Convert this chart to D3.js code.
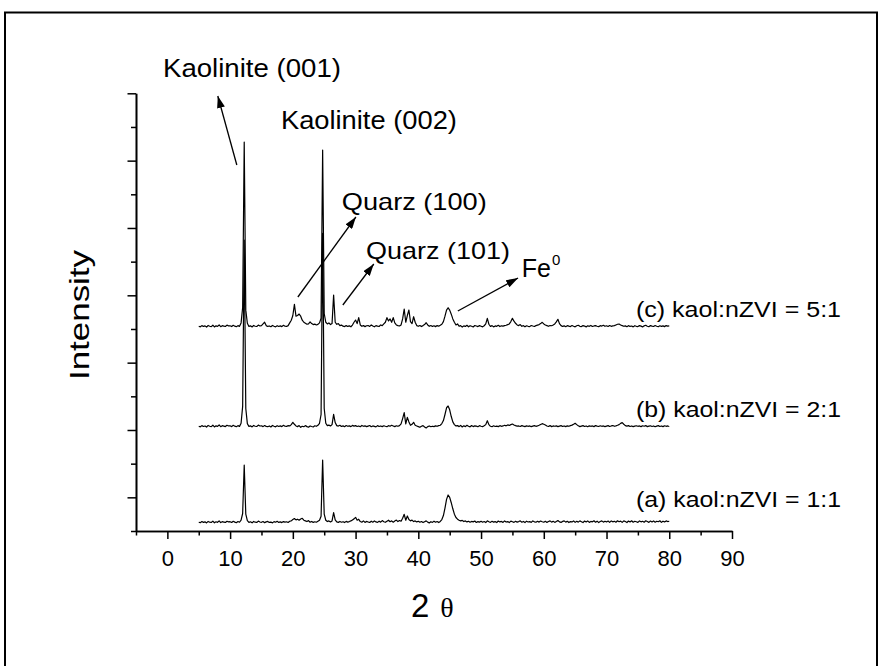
<!DOCTYPE html>
<html>
<head>
<meta charset="utf-8">
<script src="https://cdn.jsdelivr.net/npm/d3@7/dist/d3.min.js"></script>
<style>
  html, body { margin: 0; padding: 0; background: #fff; }
  svg { display: block; }
  text { font-family: "Liberation Sans", Arial, sans-serif; fill: #000; }
</style>
</head>
<body>
<div id="chart"></div>
<script>
// XRD patterns of kaolinite-supported nZVI, stacked traces

// scan grid: 5 to 80 deg 2theta, 0.25 deg step (301 points)
const scanStart = 5;
const scanStep = 0.25;

const seriesNames = ["(a) kaol:nZVI = 1:1", "(b) kaol:nZVI = 2:1", "(c) kaol:nZVI = 5:1"];
const stackOffsets = [0, 1400, 2900];

// counts, one row per 5 deg
const countsA = [
  130,124,140,128,136,120,142,131,126,146,122,137,129,150,125,139,133,127,145,135,
  138,126,145,132,124,140,130,160,260,980,250,155,128,137,121,142,131,127,147,134,
  129,140,124,136,142,127,133,121,139,130,144,128,135,125,140,131,137,126,145,150,
  170,185,165,175,160,178,189,160,150,140,155,130,142,128,137,130,145,160,220,1054,
  250,160,140,150,135,150,272,165,135,128,142,130,138,125,143,132,140,150,165,180,
  203,160,175,140,130,150,128,142,134,126,145,130,150,135,128,146,132,155,138,129,
  145,160,138,150,130,148,162,140,155,145,190,248,160,223,170,150,162,140,150,135,
  145,130,140,125,138,150,132,120,138,128,145,130,140,125,142,170,230,340,470,535,
  500,420,330,250,200,175,160,150,158,140,150,135,145,130,142,136,148,127,140,132,
  145,130,140,125,150,138,128,145,132,140,126,148,135,142,128,150,133,140,125,146,
  138,128,145,132,140,150,130,142,125,146,134,140,128,150,136,130,145,132,148,138,
  130,144,128,140,150,132,145,128,140,155,135,128,142,150,132,145,126,140,135,150,
  128,145,132,150,138,125,148,134,150,128,142,136,152,130,146,125,140,150,132,145,
  135,148,128,150,136,145,130,152,138,146,128,150,140,126,148,135,152,130,145,138,
  128,150,136,145,130,152,140,128,148,135,150,130,145,138,152,128,146,135,150,140,
  145
];
const countsB = [
  155,147,165,152,160,144,168,156,150,171,146,162,153,175,149,164,158,151,170,160,
  163,150,170,157,148,165,154,200,450,2920,420,195,153,162,146,167,156,152,172,159,
  162,150,166,154,149,160,145,167,155,147,164,152,161,150,170,156,153,165,160,180,
  214,185,160,150,165,140,155,148,165,150,142,160,152,145,163,155,170,200,330,3020,
  420,200,165,172,160,180,333,210,165,158,170,152,161,149,166,155,162,150,168,157,
  165,152,160,148,167,155,162,150,158,166,149,160,154,146,165,152,160,150,163,155,
  148,165,156,170,160,150,163,155,165,190,270,357,190,288,220,170,185,214,170,160,
  150,140,155,165,145,130,150,160,148,156,150,162,155,165,170,195,240,330,430,456,
  400,300,220,180,160,165,150,168,145,162,150,170,155,147,166,150,162,157,148,165,
  156,150,162,180,238,180,155,148,162,152,158,150,164,155,160,170,162,175,168,180,
  189,175,165,158,160,152,165,157,150,162,155,160,150,158,165,155,160,170,182,194,
  185,175,160,152,165,150,160,156,162,150,158,165,153,160,150,162,155,165,172,185,
  200,180,162,150,158,165,152,160,148,162,155,160,150,165,158,152,163,155,160,150,
  158,165,152,160,166,155,162,170,180,198,209,185,165,158,165,152,160,150,158,163,
  155,160,150,163,156,165,150,158,162,152,160,148,158,165,152,160,150,163,155,160,
  152
];
const countsC = [
  140,132,150,138,146,128,152,141,135,156,130,147,139,160,134,149,143,137,158,145,
  148,136,155,142,133,150,139,190,420,2877,380,185,138,147,130,152,141,137,158,144,
  150,175,200,150,138,145,133,152,140,131,149,137,146,135,155,141,138,150,190,230,
  300,466,290,300,322,290,230,200,185,170,175,205,180,165,172,160,168,190,260,2758,
  330,200,175,190,165,180,605,200,170,180,150,158,142,136,150,138,147,133,158,200,
  233,180,268,160,140,150,135,148,152,138,160,145,132,150,142,137,160,150,175,200,
  268,220,250,200,268,190,160,150,145,160,250,397,200,300,382,210,180,282,200,150,
  140,152,136,150,165,193,160,140,152,138,148,135,150,142,155,170,210,290,380,416,
  380,320,250,200,160,175,140,150,128,146,138,155,133,149,140,130,152,144,136,150,
  141,132,148,175,258,170,138,150,131,145,139,154,136,147,142,150,155,165,175,210,
  258,215,185,160,150,165,140,150,132,148,140,135,152,144,138,150,158,165,180,199,
  175,160,150,140,152,148,160,175,205,244,180,150,138,147,133,150,142,136,151,140,
  132,148,155,140,136,150,143,131,148,139,153,137,145,150,141,135,149,143,155,140,
  148,137,152,140,145,150,160,170,174,160,150,140,146,133,150,138,144,131,149,140,
  136,150,142,131,147,155,140,134,150,143,137,152,140,133,148,139,146,135,150,142,
  146
];
const seriesCounts = [countsA, countsB, countsC];

const xMajorTicks = [0, 10, 20, 30, 40, 50, 60, 70, 80, 90];
const xMinorTicks = [-5, 5, 15, 25, 35, 45, 55, 65, 75, 85];
const yMajorTicks = [500, 1500, 2500, 3500, 4500, 5500, 6500];
const yMinorTicks = [0, 1000, 2000, 3000, 4000, 5000, 6000];

// peak annotations, placed in data units
const peakLabels = [
  { text: "Kaolinite (001)", x: -0.7, y: 6742, size: 25, len: 178 },
  { text: "Kaolinite (002)", x: 18.1, y: 5970, size: 25, len: 176 },
  { text: "Quarz (100)", x: 27.8, y: 4767, size: 24, len: 145 },
  { text: "Quarz (101)", x: 31.65, y: 4039, size: 24, len: 144 }
];
const peakArrows = [
  { from: [11.07, 5435], to: [8.04, 6460] },
  { from: [20.8, 3475], to: [30.05, 4663] },
  { from: [27.97, 3356], to: [32.9, 3965] },
  { from: [46.3, 3267], to: [55.9, 3757] }
];
const feLabel = { x: 56.5, y: 3772 };
const legendPos = { x: 74.7, y: [361, 1697, 3182] };

const width = 881, height = 666;

const svg = d3.select("#chart").append("svg")
  .attr("width", width)
  .attr("height", height)
  .attr("viewBox", `0 0 ${width} ${height}`);

svg.append("rect")
  .attr("x", 5).attr("y", 12.5)
  .attr("width", 872).attr("height", 700)
  .attr("fill", "none")
  .attr("stroke", "#000")
  .attr("stroke-width", 2);

const x = d3.scaleLinear().domain([-5, 90]).range([136, 732]);
const y = d3.scaleLinear().domain([0, 6500]).range([531, 93.3]);

svg.append("defs").append("marker")
  .attr("id", "head")
  .attr("viewBox", "0 0 12 8")
  .attr("refX", 12).attr("refY", 4)
  .attr("markerWidth", 12).attr("markerHeight", 8)
  .attr("markerUnits", "userSpaceOnUse")
  .attr("orient", "auto")
  .append("path")
  .attr("d", "M0,0L12,4L0,8Z")
  .attr("fill", "#000");

// axes
const axisStyle = g => {
  g.select(".domain").attr("stroke-width", 1.6);
  g.selectAll(".tick line").attr("stroke-width", 1.5);
};

svg.append("g")
  .attr("transform", `translate(0,${y(0)})`)
  .call(d3.axisBottom(x).tickValues(xMajorTicks).tickSize(8).tickPadding(11).tickSizeOuter(0))
  .call(axisStyle)
  .call(g => g.selectAll("text")
    .attr("font-size", 22)
    .attr("font-family", "'Liberation Sans', Arial, sans-serif"));

svg.append("g")
  .attr("transform", `translate(0,${y(0)})`)
  .call(d3.axisBottom(x).tickValues(xMinorTicks).tickSize(4.5).tickFormat("").tickSizeOuter(0))
  .call(axisStyle);

svg.append("g")
  .attr("transform", `translate(${x(-5)},0)`)
  .call(d3.axisLeft(y).tickValues(yMajorTicks).tickSize(8.5).tickFormat("").tickSizeOuter(0))
  .call(axisStyle);

svg.append("g")
  .attr("transform", `translate(${x(-5)},0)`)
  .call(d3.axisLeft(y).tickValues(yMinorTicks).tickSize(5).tickFormat("").tickSizeOuter(0))
  .call(axisStyle);

// traces
const line = d3.line()
  .x((d, i) => x(scanStart + i * scanStep))
  .y(d => y(d));

seriesCounts.forEach((counts, k) => {
  svg.append("path")
    .datum(counts.map(c => c + stackOffsets[k]))
    .attr("fill", "none")
    .attr("stroke", "#000")
    .attr("stroke-width", 1.2)
    .attr("stroke-linejoin", "round")
    .attr("d", line);

  svg.append("text")
    .attr("x", x(legendPos.x))
    .attr("y", y(legendPos.y[k]))
    .attr("font-size", 22)
    .attr("textLength", 205)
    .attr("lengthAdjust", "spacingAndGlyphs")
    .text(seriesNames[k]);
});

// annotations
peakArrows.forEach(a => {
  svg.append("line")
    .attr("x1", x(a.from[0])).attr("y1", y(a.from[1]))
    .attr("x2", x(a.to[0])).attr("y2", y(a.to[1]))
    .attr("stroke", "#000")
    .attr("stroke-width", 1.3)
    .attr("marker-end", "url(#head)");
});

peakLabels.forEach(p => {
  svg.append("text")
    .attr("x", x(p.x))
    .attr("y", y(p.y))
    .attr("font-size", p.size)
    .attr("textLength", p.len)
    .attr("lengthAdjust", "spacingAndGlyphs")
    .text(p.text);
});

const fe = svg.append("text")
  .attr("x", x(feLabel.x))
  .attr("y", y(feLabel.y))
  .attr("font-size", 25);
fe.append("tspan").text("Fe");
fe.append("tspan").attr("dx", 1).attr("dy", -12).attr("font-size", 15).text("0");

// axis titles
svg.append("text")
  .attr("transform", "translate(88.5,315) rotate(-90)")
  .attr("text-anchor", "middle")
  .attr("font-size", 28)
  .attr("textLength", 130)
  .attr("lengthAdjust", "spacingAndGlyphs")
  .text("Intensity");

const xt = svg.append("text")
  .attr("x", 411)
  .attr("y", 617)
  .attr("font-size", 33);
xt.append("tspan").text("2");
xt.append("tspan")
  .attr("dx", 11)
  .attr("font-family", "'Liberation Serif', 'DejaVu Serif', serif")
  .attr("font-size", 28)
  .text("θ");
</script>
</body>
</html>
